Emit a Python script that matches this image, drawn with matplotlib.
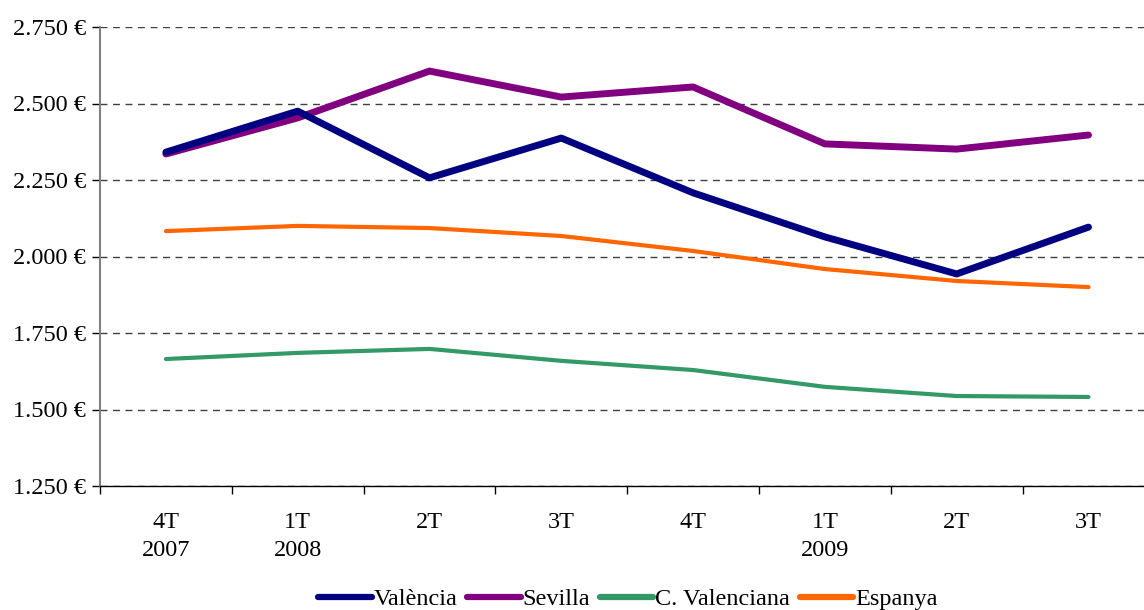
import matplotlib
matplotlib.use("Agg")
import matplotlib.pyplot as plt
from matplotlib.ticker import FuncFormatter, FixedLocator

categories = ["4T\n2007", "1T\n2008", "2T", "3T", "4T", "1T\n2009", "2T", "3T"]
valencia = [2341, 2475, 2257, 2387, 2208, 2064, 1943, 2096]
sevilla = [2335, 2453, 2606, 2521, 2554, 2368, 2351, 2397]
c_valenciana = [1665, 1685, 1698, 1659, 1629, 1574, 1544, 1541]
espanya = [2083, 2100, 2093, 2067, 2018, 1959, 1920, 1900]

plt.rcParams['font.family'] = ['Liberation Serif', 'DejaVu Serif']
FS = 17.5

fig = plt.figure(figsize=(11.44, 6.10), dpi=100)
ax = fig.add_axes([100/1144, 1-486/610, 1-100/1144, (486-27)/610])

x = list(range(len(categories)))
ax.plot(x, valencia, color='#000080', lw=5, solid_capstyle='round', label='València', zorder=5)
ax.plot(x, sevilla, color='#800080', lw=5, solid_capstyle='round', label='Sevilla', zorder=4)
ax.plot(x, c_valenciana, color='#339966', lw=3, solid_capstyle='round', label='C. Valenciana', zorder=3)
ax.plot(x, espanya, color='#FF6600', lw=3, solid_capstyle='round', label='Espanya', zorder=3)

ax.set_ylim(1250, 2750)
ax.set_xlim(-0.5, -0.5 + 1044/131.8)
ax.set_yticks([1250, 1500, 1750, 2000, 2250, 2500, 2750])
ax.yaxis.set_major_formatter(FuncFormatter(lambda v, p: f"{int(v):,} €".replace(",", ".")))
ax.yaxis.grid(True, linestyle=(0, (5, 4)), color='#404040', lw=1.0)
ax.set_axisbelow(True)

ax.set_xticks(x)
ax.set_xticklabels(categories, linespacing=1.42)
ax.xaxis.set_minor_locator(FixedLocator([i - 0.5 for i in range(len(categories) + 1)]))
ax.tick_params(axis='x', which='major', length=0, pad=19)
ax.tick_params(axis='x', which='minor', length=6, width=1, direction='out', color='black')
ax.tick_params(axis='y', length=6, width=1, direction='out', color='black', pad=4)
ax.tick_params(labelsize=FS)

for s in ['top', 'right']:
    ax.spines[s].set_visible(False)
ax.spines['left'].set_color('#808080')
ax.spines['left'].set_linewidth(1.5)
ax.spines['bottom'].set_color('black')
ax.spines['bottom'].set_linewidth(1.0)

leg = fig.legend(loc='center', bbox_to_anchor=(628/1144, 1-599/610), ncol=4, frameon=False,
                 fontsize=FS, handlelength=2.2, handletextpad=0.08, columnspacing=0.4)
for h in leg.get_lines():
    h.set_solid_capstyle('round')
    h.set_linewidth(4.5)

fig.savefig("out.png", dpi=100)
